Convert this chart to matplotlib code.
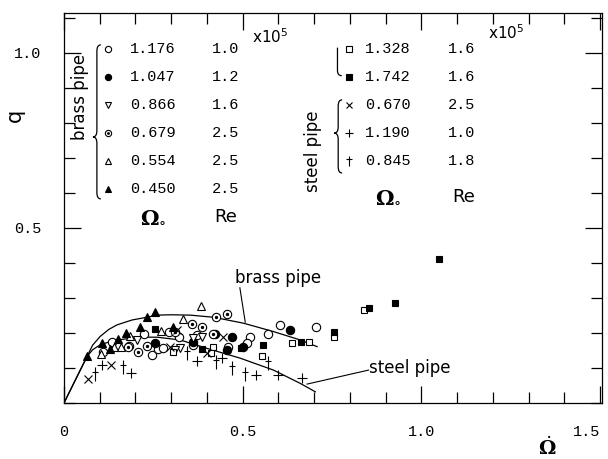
import numpy as np
import matplotlib
matplotlib.use("Agg")
import matplotlib.pyplot as plt
from matplotlib.path import Path
from matplotlib.patches import PathPatch
from matplotlib.ticker import MultipleLocator, FixedLocator, FixedFormatter

# ---- data ----
x_tick_vals = [0, 0.5, 1.0, 1.5]
x_tick_labels = ["0", "0.5", "1.0", "1.5"]
y_tick_vals = [0.5, 1.0]
y_tick_labels = ["0.5", "1.0"]

brass_omega0 = ["1.176", "1.047", "0.866", "0.679", "0.554", "0.450"]
brass_re = ["1.0", "1.2", "1.6", "2.5", "2.5", "2.5"]
steel_omega0 = ["1.328", "1.742", "0.670", "1.190", "0.845"]
steel_re = ["1.6", "1.6", "2.5", "1.0", "1.8"]

# brass pipe
b1176_x = [0.109, 0.134, 0.182, 0.224, 0.246, 0.263, 0.277, 0.294, 0.322, 0.373, 0.361, 0.459, 0.521, 0.513, 0.571, 0.605, 0.706]
b1176_y = [0.146, 0.174, 0.163, 0.197, 0.137, 0.154, 0.157, 0.203, 0.189, 0.194, 0.166, 0.160, 0.189, 0.171, 0.197, 0.223, 0.217]
b1047_x = [0.255, 0.361, 0.423, 0.471, 0.501, 0.633, 0.455]
b1047_y = [0.171, 0.174, 0.197, 0.189, 0.160, 0.209, 0.150]
b0866_x = [0.204, 0.325, 0.387, 0.310, 0.360]
b0866_y = [0.180, 0.157, 0.189, 0.150, 0.185]
b0679_x = [0.207, 0.232, 0.311, 0.359, 0.387, 0.426, 0.457, 0.417, 0.180]
b0679_y = [0.146, 0.163, 0.203, 0.226, 0.217, 0.246, 0.254, 0.197, 0.160]
b0554_x = [0.104, 0.160, 0.185, 0.272, 0.333, 0.384, 0.140]
b0554_y = [0.140, 0.160, 0.191, 0.206, 0.240, 0.277, 0.160]
b0450_x = [0.064, 0.106, 0.129, 0.151, 0.174, 0.213, 0.232, 0.255, 0.305]
b0450_y = [0.134, 0.171, 0.154, 0.183, 0.200, 0.217, 0.246, 0.260, 0.217]

# steel pipe
s1328_x = [0.305, 0.417, 0.412, 0.555, 0.639, 0.686, 0.754, 0.838]
s1328_y = [0.146, 0.160, 0.143, 0.134, 0.171, 0.174, 0.189, 0.266]
s1742_x = [0.255, 0.387, 0.496, 0.557, 0.664, 0.754, 0.852, 0.927, 1.048]
s1742_y = [0.211, 0.154, 0.157, 0.166, 0.174, 0.203, 0.271, 0.286, 0.411]
s0670_x = [0.067, 0.132, 0.297, 0.317, 0.401, 0.445]
s0670_y = [0.069, 0.109, 0.160, 0.209, 0.143, 0.189]
s1190_x = [0.106, 0.188, 0.373, 0.443, 0.538, 0.599, 0.667]
s1190_y = [0.109, 0.086, 0.120, 0.129, 0.080, 0.080, 0.071]
s0845_x = [0.087, 0.165, 0.345, 0.426, 0.471, 0.507, 0.571]
s0845_y = [0.083, 0.103, 0.143, 0.117, 0.100, 0.083, 0.114]

# fitted curves
brass_curve_x = [0, 0.03, 0.064, 0.08, 0.101, 0.125, 0.148, 0.19, 0.232, 0.26, 0.30, 0.353, 0.418, 0.502, 0.586, 0.661, 0.708]
brass_curve_y = [0, 0.062, 0.132, 0.165, 0.190, 0.210, 0.223, 0.237, 0.245, 0.251, 0.252, 0.251, 0.245, 0.228, 0.204, 0.180, 0.161]
steel_curve_x = [0, 0.03, 0.064, 0.08, 0.101, 0.125, 0.148, 0.213, 0.26, 0.325, 0.40, 0.493, 0.586, 0.661, 0.703]
steel_curve_y = [0, 0.062, 0.132, 0.152, 0.166, 0.174, 0.180, 0.188, 0.188, 0.180, 0.156, 0.128, 0.094, 0.056, 0.032]

# ---- styles ----
dagger = Path([(0, -1), (0, 1), (-0.5, 0.35), (0.5, 0.35)],
              [Path.MOVETO, Path.LINETO, Path.MOVETO, Path.LINETO])

K = "black"
styles = {
    "b1176": dict(marker="o", ms=6, mfc="white", mec=K),
    "b1047": dict(marker="o", ms=6, mfc=K, mec=K),
    "b0866": dict(marker="v", ms=6, mfc="white", mec=K),
    "b0679": dict(marker="o", ms=6, mfc="white", mec=K),
    "b0554": dict(marker="^", ms=6, mfc="white", mec=K),
    "b0450": dict(marker="^", ms=6, mfc=K, mec=K),
    "s1328": dict(marker="s", ms=5, mfc="white", mec=K),
    "s1742": dict(marker="s", ms=5, mfc=K, mec=K),
    "s0670": dict(marker="x", ms=6, mec=K),
    "s1190": dict(marker="+", ms=7, mec=K),
    "s0845": dict(marker=dagger, ms=10, mec=K),
}
series = {
    "b1176": (b1176_x, b1176_y), "b1047": (b1047_x, b1047_y),
    "b0866": (b0866_x, b0866_y), "b0679": (b0679_x, b0679_y),
    "b0554": (b0554_x, b0554_y), "b0450": (b0450_x, b0450_y),
    "s1328": (s1328_x, s1328_y), "s1742": (s1742_x, s1742_y),
    "s0670": (s0670_x, s0670_y), "s1190": (s1190_x, s1190_y),
    "s0845": (s0845_x, s0845_y),
}

plt.rcParams["font.family"] = ["DejaVu Sans"]
num_font = "Liberation Mono"

fig = plt.figure(figsize=(6.08, 4.59), dpi=100)
ax = fig.add_axes([64 / 608, 56 / 459, 538 / 608, 390 / 459])
ax.set_xlim(0, 1.505)
ax.set_ylim(0, 1.114)

ax.plot(brass_curve_x, brass_curve_y, color=K, lw=0.9)
ax.plot(steel_curve_x, steel_curve_y, color=K, lw=0.9)


def draw_series(key, xs, ys, scale=1.0):
    st = dict(styles[key])
    st["ms"] = st["ms"] * scale
    ax.plot(xs, ys, ls="none", mew=0.8, **st)
    if key == "b0679":
        ax.plot(xs, ys, ls="none", marker="o", ms=1.4 * scale, mfc=K, mec=K)


for key, (xs, ys) in series.items():
    draw_series(key, xs, ys)

# ---- in-plot legend ----
row_y = [1.012 - 0.08 * i for i in range(6)]
fs_num = 11
omega_lbl = r"$\mathbf{\Omega}_{\circ}$"
for i, key in enumerate(["b1176", "b1047", "b0866", "b0679", "b0554", "b0450"]):
    draw_series(key, [0.123], [row_y[i]], scale=0.75)
    ax.text(0.185, row_y[i], brass_omega0[i], family=num_font, fontsize=fs_num, va="center")
    ax.text(0.415, row_y[i], brass_re[i], family=num_font, fontsize=fs_num, va="center")
ax.text(0.249, 0.531, omega_lbl, fontsize=15, ha="center", va="center",
        math_fontfamily="dejavuserif")
ax.text(0.451, 0.531, "Re", fontsize=13, ha="center", va="center")
ax.text(0.527, 1.046, r"x10$^{5}$", fontsize=11, va="center")
ax.text(0.045, 0.874, "brass pipe", fontsize=12, rotation=90, ha="center", va="center")

for i, key in enumerate(["s1328", "s1742", "s0670", "s1190", "s0845"]):
    draw_series(key, [0.798], [row_y[i]], scale=0.75)
    ax.text(0.843, row_y[i], steel_omega0[i], family=num_font, fontsize=fs_num, va="center")
    ax.text(1.073, row_y[i], steel_re[i], family=num_font, fontsize=fs_num, va="center")
ax.text(0.908, 0.589, omega_lbl, fontsize=15, ha="center", va="center",
        math_fontfamily="dejavuserif")
ax.text(1.118, 0.589, "Re", fontsize=13, ha="center", va="center")
ax.text(1.185, 1.057, r"x10$^{5}$", fontsize=11, va="center")
ax.text(0.697, 0.72, "steel pipe", fontsize=12, rotation=90, ha="center", va="center")


def brace(x, y_top, y_bot, y_mid, w=0.011, r=0.018):
    verts = [(x + w, y_top), (x, y_top), (x, y_top - r),
             (x, y_mid + r), (x, y_mid), (x - w, y_mid),
             (x, y_mid), (x, y_mid - r),
             (x, y_bot + r), (x, y_bot), (x + w, y_bot)]
    codes = [Path.MOVETO, Path.CURVE3, Path.CURVE3, Path.LINETO,
             Path.CURVE3, Path.CURVE3, Path.CURVE3, Path.CURVE3,
             Path.LINETO, Path.CURVE3, Path.CURVE3]
    ax.add_patch(PathPatch(Path(verts, codes), fill=False, lw=0.9, ec=K))


brace(0.092, 1.023, 0.583, 0.76)
brace(0.767, 0.866, 0.657, 0.771)
hook = Path([(0.765, 1.015), (0.765, 0.95), (0.765, 0.935), (0.777, 0.935)],
            [Path.MOVETO, Path.LINETO, Path.CURVE3, Path.CURVE3])
ax.add_patch(PathPatch(hook, fill=False, lw=0.9, ec=K))

# curve labels with leader lines
ax.text(0.479, 0.357, "brass pipe", fontsize=12, va="center")
ax.plot([0.492, 0.507], [0.329, 0.231], color=K, lw=0.8)
ax.text(0.854, 0.10, "steel pipe", fontsize=12, va="center")
ax.plot([0.852, 0.68], [0.094, 0.054], color=K, lw=0.8)

# ---- axes ----
ax.xaxis.set_major_locator(FixedLocator(x_tick_vals))
ax.xaxis.set_major_formatter(FixedFormatter(x_tick_labels))
ax.yaxis.set_major_locator(FixedLocator(y_tick_vals))
ax.yaxis.set_major_formatter(FixedFormatter(y_tick_labels))
ax.xaxis.set_minor_locator(MultipleLocator(0.1))
ax.yaxis.set_minor_locator(MultipleLocator(0.1))
ax.tick_params(which="both", direction="in", top=True, right=True, width=0.9)
ax.tick_params(which="major", length=12, pad=16, labelsize=11)
ax.tick_params(which="minor", length=8)
for lab in ax.get_xticklabels() + ax.get_yticklabels():
    lab.set_family(num_font)
ax.get_xticklabels()[-1].set_horizontalalignment("right")
for sp in ax.spines.values():
    sp.set_linewidth(0.9)

ax.text(-0.091, 0.738, "q", fontsize=15, rotation=90, ha="center", va="center",
        transform=ax.transAxes)
ax.text(0.898, -0.115, r"$\dot{\mathbf{\Omega}}$", fontsize=14, ha="center", va="center",
        transform=ax.transAxes, math_fontfamily="dejavuserif")

fig.savefig("out.png", dpi=100)
